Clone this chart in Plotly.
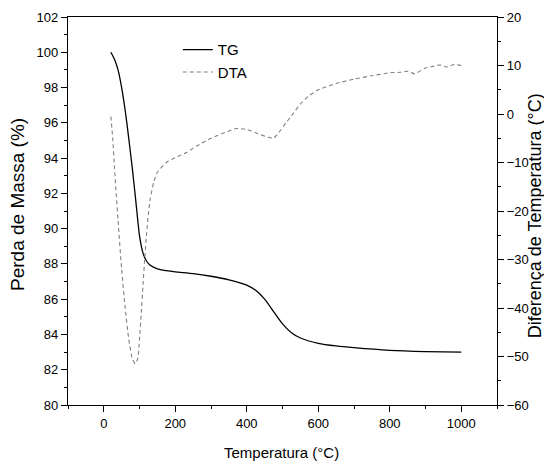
import plotly.graph_objects as go

# TG curve (left axis, mass loss %)
tg_temp = [20, 30, 40, 50, 60, 70, 80, 90, 100, 110, 120, 130, 150, 175, 200, 250, 300,
           350, 400, 425, 450, 475, 500, 525, 550, 600, 650, 700, 800, 900, 1000]
tg_mass = [100.0, 99.6, 99.0, 98.0, 96.7, 95.1, 93.4, 91.5, 89.6, 88.6, 88.15, 87.92, 87.72,
           87.62, 87.55, 87.45, 87.3, 87.1, 86.8, 86.5, 86.0, 85.3, 84.6, 84.1, 83.8, 83.5,
           83.35, 83.25, 83.1, 83.03, 83.0]

# DTA curve (right axis, temperature difference °C)
dta_temp = [20, 25, 30, 40, 50, 60, 70, 80, 88, 95, 100, 105, 110, 115, 120, 125, 130, 140,
            150, 175, 200, 230, 260, 300, 340, 370, 400, 430, 460, 475, 490, 510, 530, 550,
            575, 600, 650, 700, 750, 800, 830, 850, 870, 900, 920, 940, 960, 980, 1000]
dta_diff = [-0.5, -5, -11, -22, -32, -40, -46.5, -50.5, -51.5, -50.5, -46.5, -41, -35, -29.5,
            -24.5, -20.5, -17.5, -14, -12, -10, -9, -8, -6.6, -5, -3.8, -3.0, -3.2, -4.0,
            -4.8, -5.0, -3.8, -1.8, 0.1, 2.1, 3.8, 5.0, 6.3, 7.2, 7.9, 8.5, 8.6, 8.8, 8.3,
            9.5, 9.8, 10.1, 9.7, 10.2, 10.0]

x_ticks = [0, 200, 400, 600, 800, 1000]
y_ticks = [80, 82, 84, 86, 88, 90, 92, 94, 96, 98, 100, 102]
y2_ticks = [-60, -50, -40, -30, -20, -10, 0, 10, 20]

FONT = "Liberation Sans, Arial, sans-serif"

fig = go.Figure()
fig.add_trace(go.Scatter(x=tg_temp, y=tg_mass, mode="lines", name="TG",
                         line=dict(color="black", width=1.3, shape="spline", smoothing=0.6)))
fig.add_trace(go.Scatter(x=dta_temp, y=dta_diff, mode="lines", name="DTA", yaxis="y2",
                         line=dict(color="#808080", width=1.1, dash="4px,3px",
                                   shape="spline", smoothing=0.5)))

axis_common = dict(showgrid=False, zeroline=False, showline=True, linecolor="black",
                   linewidth=1.3, ticks="outside", ticklen=6, tickwidth=1.2, automargin=False,
                   tickcolor="black", tickfont=dict(family=FONT, size=13, color="black"))

fig.update_layout(
    width=544, height=464,
    margin=dict(l=68, r=47, t=17, b=59),
    paper_bgcolor="white", plot_bgcolor="white",
    font=dict(family=FONT, color="black"),
    xaxis=dict(range=[-100, 1100], tickvals=x_ticks, mirror=True,
               minor=dict(dtick=100, ticks="outside", ticklen=3, tickcolor="black"),
               **axis_common),
    yaxis=dict(range=[80, 102], tickvals=y_ticks,
               minor=dict(dtick=1, ticks="outside", ticklen=3, tickcolor="black"),
               **axis_common),
    yaxis2=dict(range=[-60, 20], tickvals=y2_ticks, overlaying="y", side="right",
                minor=dict(dtick=5, ticks="outside", ticklen=3, tickcolor="black"),
                **axis_common),
    legend=dict(x=0.256, y=0.958, xanchor="left", yanchor="top", bgcolor="rgba(0,0,0,0)",
                font=dict(family=FONT, size=15), tracegroupgap=0, itemwidth=30),
    showlegend=True,
    annotations=[
        dict(text="Temperatura (°C)", xref="paper", yref="paper", x=0.4988, y=-0.1237,
             showarrow=False, xanchor="center", yanchor="middle",
             font=dict(family=FONT, size=15, color="black")),
        dict(text="Perda de Massa (%)", xref="paper", yref="paper", x=-0.1189, y=0.518,
             showarrow=False, xanchor="center", yanchor="middle", textangle=-90,
             font=dict(family=FONT, size=19, color="black")),
        dict(text="Diferença de Temperatura (°C)", xref="paper", yref="paper", x=1.089, y=0.487,
             showarrow=False, xanchor="center", yanchor="middle", textangle=-90,
             font=dict(family=FONT, size=18, color="black")),
    ],
)

fig.write_html("out.html", config={"displayModeBar": False},
               post_script="document.body.style.margin='0';document.body.style.overflow='hidden';")
